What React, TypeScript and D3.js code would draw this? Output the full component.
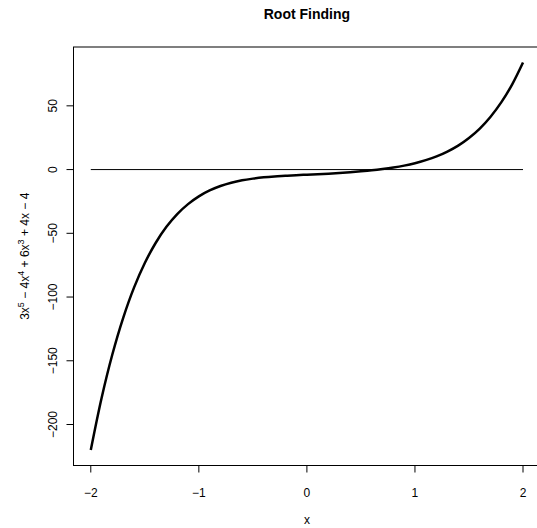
import React from "react";
import * as d3 from "d3";

const xValues = [-2.0,-1.9,-1.8,-1.7,-1.6,-1.5,-1.4,-1.3,-1.2,-1.1,-1.0,-0.9,-0.8,-0.7,-0.6,-0.5,-0.4,-0.3,-0.2,-0.1,0.0,0.1,0.2,0.3,0.4,0.5,0.6,0.7,0.8,0.9,1.0,1.1,1.2,1.3,1.4,1.5,1.6,1.7,1.8,1.9,2.0];
const yValues = [-220.0,-179.2,-144.9,-116.3,-92.6,-73.3,-57.6,-44.9,-34.9,-27.1,-21.0,-16.4,-12.9,-10.3,-8.4,-7.1,-6.1,-5.4,-4.9,-4.4,-4.0,-3.6,-3.2,-2.7,-2.1,-1.4,-0.6,0.4,1.6,3.1,5.0,7.4,10.3,14.1,18.8,24.8,32.2,41.5,52.9,66.9,84.0];
const xTicks = [-2, -1, 0, 1, 2];
const yTicks = [-200, -150, -100, -50, 0, 50];
const title = "Root Finding";
const xLabel = "x";

const W = 537, H = 528;
const left = 73.5, right = 540.3, top = 47, bottom = 465.5;

export default function App() {
  const xMin = -2, xMax = 2;
  const yMin = d3.min(yValues)!, yMax = d3.max(yValues)!;
  const xPad = (xMax - xMin) * 0.04, yPad = (yMax - yMin) * 0.04;
  const x = d3.scaleLinear().domain([xMin - xPad, xMax + xPad]).range([left, right]);
  const y = d3.scaleLinear().domain([yMin - yPad, yMax + yPad]).range([bottom, top]);
  const pts: [number, number][] = xValues.map((v, i) => [v, yValues[i]]);
  const line = d3.line<[number, number]>().x(d => x(d[0])).y(d => y(d[1])).curve(d3.curveCatmullRom.alpha(0.5));
  const font = "Liberation Sans, Arial, Helvetica, sans-serif";
  const cy = (top + bottom) / 2;
  return (
    <svg width={W} height={H} style={{ position: "absolute", left: 0, top: 0, background: "#fff" }} fontFamily={font}>
      <rect x={0} y={0} width={W} height={H} fill="#fff" />
      <text x={(left + right) / 2} y={19} textAnchor="middle" fontWeight="bold" fontSize={14}>{title}</text>
      <rect x={left} y={top} width={right - left} height={bottom - top} fill="none" stroke="#000" strokeWidth={1} />
      {xTicks.map(t => (
        <g key={"x" + t}>
          <line x1={x(t)} x2={x(t)} y1={bottom} y2={bottom + 7} stroke="#000" />
          <text x={x(t)} y={497} textAnchor="middle" fontSize={12}>{t < 0 ? "\u2212" + Math.abs(t) : t}</text>
        </g>
      ))}
      {yTicks.map(t => (
        <g key={"y" + t}>
          <line x1={left} x2={left - 7} y1={y(t)} y2={y(t)} stroke="#000" />
          <text transform={`translate(56.5,${y(t)}) rotate(-90)`} textAnchor="middle" fontSize={12}>{t < 0 ? "\u2212" + Math.abs(t) : t}</text>
        </g>
      ))}
      <text x={(left + right) / 2} y={524} textAnchor="middle" fontSize={12}>{xLabel}</text>
      <text transform={`translate(29,${cy}) rotate(-90)`} textAnchor="middle" fontSize={12}>
        <tspan>3x</tspan><tspan dy={-5} fontSize={9}>5</tspan>
        <tspan dy={5}>{" \u2212 4x"}</tspan><tspan dy={-5} fontSize={9}>4</tspan>
        <tspan dy={5}>{" + 6x"}</tspan><tspan dy={-5} fontSize={9}>3</tspan>
        <tspan dy={5}>{" + 4x \u2212 4"}</tspan>
      </text>
      <line x1={x(xMin)} x2={x(xMax)} y1={y(0)} y2={y(0)} stroke="#000" strokeWidth={1} />
      <path d={line(pts)!} fill="none" stroke="#000" strokeWidth={2.5} />
    </svg>
  );
}
